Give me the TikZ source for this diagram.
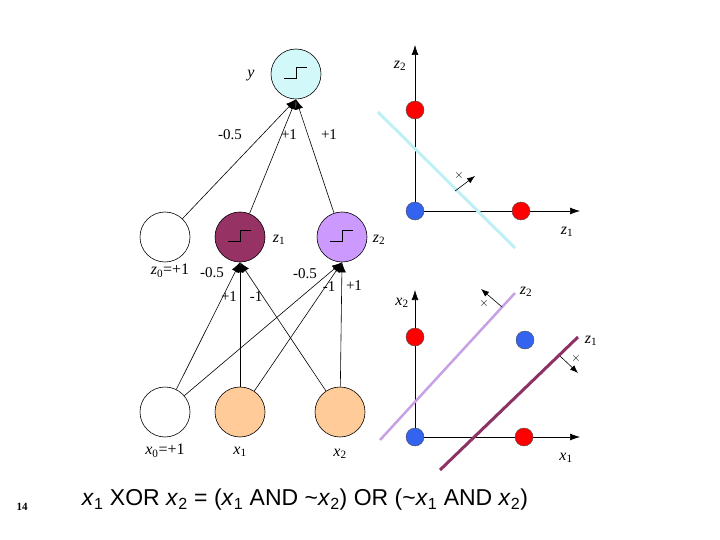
\documentclass[tikz,border=0pt]{standalone}
\usepackage{fontspec}
\setsansfont{Liberation Sans}
\setmainfont{Liberation Serif}
\usetikzlibrary{arrows.meta,calc}
\begin{document}
\begin{tikzpicture}[x=1pt,y=-1pt,
 neuron/.style={circle,draw,line width=0.6pt,minimum size=50pt,inner sep=0pt},
 conn/.style={-{Latex[length=10pt,width=8pt]},line width=0.6pt},
 wl/.style={font=\fontsize{15}{15}\selectfont,inner sep=1pt},
 lbl/.style={font=\itshape\fontsize{16}{16}\selectfont,inner sep=1pt},
 xm/.style={font=\bfseries\fontsize{13}{13}\selectfont,inner sep=0pt},
 dotr/.style={circle,draw=black!70,fill=red,minimum size=18pt,inner sep=0pt},
 dotb/.style={circle,draw=black!70,fill={rgb,255:red,50;green,100;blue,240},minimum size=18pt,inner sep=0pt},
 axis/.style={-{Latex[length=10pt,width=7pt]},line width=0.6pt},
 small/.style={-{Latex[length=8pt,width=6pt]},line width=0.6pt}]
\useasboundingbox (0,0) rectangle (720,540);
\definecolor{ycol}{RGB}{210,248,250}
\definecolor{zonec}{RGB}{150,50,100}
\definecolor{ztwoc}{RGB}{204,153,255}
\definecolor{xcol}{RGB}{255,204,153}
\definecolor{cyanl}{RGB}{190,240,245}
\definecolor{lpur}{RGB}{200,160,230}
\definecolor{dpur}{RGB}{140,50,100}
\newcommand{\stepfn}[1]{\draw[line width=0.8pt] ($(#1)+(-12,4)$) -- ++(12,0) -- ++(0,-11) -- ++(11,0);}
\node[neuron,fill=ycol] (y) at (296,74) {};
\node[neuron] (z0) at (165,237) {};
\node[neuron,fill=zonec] (z1) at (240,237) {};
\node[neuron,fill=ztwoc] (z2) at (342,237) {};
\node[neuron] (x0) at (165,412) {};
\node[neuron,fill=xcol] (x1) at (240,412) {};
\node[neuron,fill=xcol] (x2) at (340,412) {};
\stepfn{y}\stepfn{z1}\stepfn{z2}
\draw[conn] (z0) -- (y.south);
\draw[conn] (z1) -- (y.south);
\draw[conn] (z2) -- (y.south);
\draw[conn] (x0) -- (z1.south);
\draw[conn] (x1) -- (z1.south);
\draw[conn] (x2) -- (z1.south);
\draw[conn] (x0) -- (z2.south);
\draw[conn] (x1) -- (z2.south);
\draw[conn] (x2) -- (z2.south);
\node[wl] at (230,135) {-0.5};
\node[wl] at (289,135) {+1};
\node[wl] at (329,135) {+1};
\node[wl] at (212,273) {-0.5};
\node[wl] at (229,297) {+1};
\node[wl] at (256,297) {-1};
\node[wl] at (305,274) {-0.5};
\node[wl] at (329,287) {-1};
\node[wl] at (354,286) {+1};
\node[lbl] at (251,76) {y};
\node[lbl] at (279,240) {z\textsubscript{\upshape 1}};
\node[lbl] at (379,240) {z\textsubscript{\upshape 2}};
\node[lbl] at (170,271) {z\textsubscript{\upshape 0}\upshape =+1};
\node[lbl] at (165,451) {x\textsubscript{\upshape 0}\upshape =+1};
\node[lbl] at (240,452) {x\textsubscript{\upshape 1}};
\node[lbl] at (340,454) {x\textsubscript{\upshape 2}};
\coordinate (o1) at (415,211);
\coordinate (t1) at (415,45);
\coordinate (r1) at (580,211);
\draw[axis] (o1) -- (t1);
\draw[axis] (o1) -- (r1);
\coordinate (ca) at (378,112); \coordinate (cb) at (515,248);
\draw[cyanl,line width=3pt] (ca) -- (cb);
\coordinate (aa) at (455,191); \coordinate (ab) at (475,176);
\draw[small] (aa) -- (ab);
\node[xm] at (459,176) {$\times$};
\node[dotr] (p1) at (415,110) {};
\node[dotb] (p2) at (415,211) {};
\node[dotr] (p3) at (521,211) {};
\node[lbl] at (400,66) {z\textsubscript{\upshape 2}};
\node[lbl] at (567,232) {z\textsubscript{\upshape 1}};
\coordinate (o2) at (415,437);
\coordinate (t2) at (415,290);
\coordinate (r2) at (580,437);
\draw[axis] (o2) -- (t2);
\draw[axis] (o2) -- (r2);
\coordinate (la) at (380,440); \coordinate (lb) at (515,293);
\draw[lpur,line width=2.5pt] (la) -- (lb);
\coordinate (da) at (440,470); \coordinate (db) at (578,337);
\draw[dpur,line width=3pt] (da) -- (db);
\coordinate (ba) at (502,307); \coordinate (bb) at (481,289);
\draw[small] (ba) -- (bb);
\node[xm] at (484,303) {$\times$};
\coordinate (ea) at (560,356); \coordinate (eb) at (578,373);
\draw[small] (ea) -- (eb);
\node[xm] at (576,358) {$\times$};
\node[dotr] (q1) at (415,337) {};
\node[dotb] (q2) at (525,340) {};
\node[dotb] (q3) at (415,437) {};
\node[dotr] (q4) at (524,437) {};
\node[lbl] at (402,303) {x\textsubscript{\upshape 2}};
\node[lbl] at (566,458) {x\textsubscript{\upshape 1}};
\node[lbl] at (526,292) {z\textsubscript{\upshape 2}};
\node[lbl] at (591,341) {z\textsubscript{\upshape 1}};
\node[font=\bfseries\fontsize{11}{11}\selectfont] at (22,507) {14};
\node[font=\sffamily\fontsize{23}{23}\selectfont] at (305,500) {\textit{x}\textsubscript{1} XOR \textit{x}\textsubscript{2} = (\textit{x}\textsubscript{1} AND \textasciitilde\textit{x}\textsubscript{2}) OR (\textasciitilde\textit{x}\textsubscript{1} AND \textit{x}\textsubscript{2})};
\end{tikzpicture}
\end{document}
